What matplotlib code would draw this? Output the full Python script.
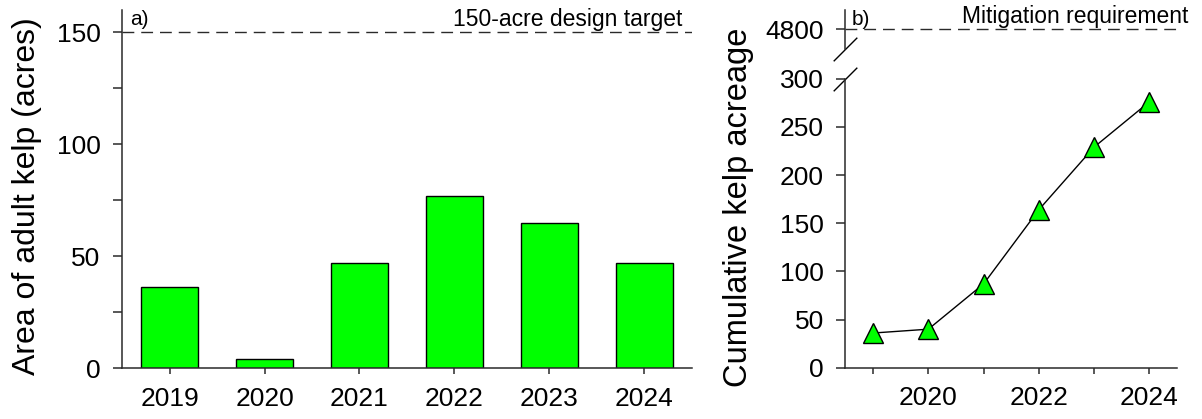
import matplotlib
matplotlib.use("Agg")
import matplotlib.pyplot as plt

plt.rcParams['font.family'] = ['Liberation Sans', 'DejaVu Sans']

# data
years = [2019, 2020, 2021, 2022, 2023, 2024]
adult_kelp = [36, 4, 47, 77, 65, 47]
cumulative = [36, 40, 87, 164, 229, 276]
right_xlabels = ['', '2020', '', '2022', '', '2024']
design_target = 150
mitigation = 4800

green = '#00ff00'
axcol = '#2a2a2a'

fig = plt.figure(figsize=(12.02, 4.19), dpi=100)

def style(ax):
    for s in ['top', 'right']:
        ax.spines[s].set_visible(False)
    for s in ['left', 'bottom']:
        ax.spines[s].set_color(axcol)
        ax.spines[s].set_linewidth(1.1)
    ax.tick_params(axis='y', length=6.5, width=1.1, color=axcol, labelsize=19, pad=9)
    ax.tick_params(axis='x', length=4.5, width=1.1, color=axcol, labelsize=19, pad=9)

#%% a) bars
ax1 = fig.add_axes([0.1015, 0.1217, 0.4742, 0.8544])
ax1.bar(years, adult_kelp, width=0.6, color=green, edgecolor='black', linewidth=1.0, zorder=2)
ax1.axhline(design_target, color=axcol, lw=1.0, dashes=(8.5, 5), zorder=1)
ax1.set_xlim(2018.5, 2024.5)
ax1.set_ylim(0, 160)
ax1.set_yticks([0, 50, 100, 150])
ax1.set_yticks([25, 75, 125], minor=True)
ax1.set_xticks(years)
style(ax1)
ax1.tick_params(axis='y', which='minor', length=6.5, width=1.1, color=axcol)
ax1.set_ylabel('Area of adult kelp (acres)', fontsize=23)
ax1.yaxis.set_label_coords(-0.14, 0.479)
ax1.annotate('150-acre design target', xy=(1, design_target),
             xycoords=('axes fraction', 'data'), xytext=(-7, 1),
             textcoords='offset points', ha='right', va='bottom', fontsize=16.5)
ax1.text(0.014, 1.0, 'a)', transform=ax1.transAxes, ha='left', va='top', fontsize=15)

#%% b) cumulative, broken axis
ax2 = fig.add_axes([0.7034, 0.1224, 0.2758, 0.6898])
ax3 = fig.add_axes([0.7034, 0.8838, 0.2758, 0.0923])
ax2.plot(years, cumulative, color='black', lw=1.0, marker='^', markersize=14.5,
         markerfacecolor=green, markeredgecolor='black', markeredgewidth=1.0,
         clip_on=False, zorder=3)
ax2.set_xlim(2018.5, 2024.5)
ax2.set_ylim(0, 300)
ax2.set_yticks([0, 50, 100, 150, 200, 250, 300])
ax2.set_xticks(years)
ax2.set_xticklabels(right_xlabels)
style(ax2)
ax2.set_ylabel('Cumulative kelp acreage', fontsize=23.5)
ax2.yaxis.set_label_coords(-0.276, 0.556)

ax3.set_xlim(2018.5, 2024.5)
ax3.set_ylim(mitigation - 20, mitigation + 20)
ax3.axhline(mitigation, color=axcol, lw=1.0, dashes=(8.5, 5))
ax3.set_yticks([mitigation])
ax3.set_xticks([])
style(ax3)
ax3.spines['bottom'].set_visible(False)
ax3.patch.set_alpha(0)
ax3.annotate('Mitigation requirement', xy=(1, mitigation),
             xycoords=('axes fraction', 'data'), xytext=(8, 1),
             textcoords='offset points', ha='right', va='bottom', fontsize=16.5)
ax3.text(0.02, 1.0, 'b)', transform=ax3.transAxes, ha='left', va='top', fontsize=15)

# break marks
kw = dict(marker=[(-1, -1), (1, 1)], markersize=17, linestyle='none',
          color='black', mec='black', mew=1.0, clip_on=False)
ax3.plot([0], [0], transform=ax3.transAxes, **kw)
ax2.plot([0], [1], transform=ax2.transAxes, **kw)

plt.savefig('out.png', dpi=100)
